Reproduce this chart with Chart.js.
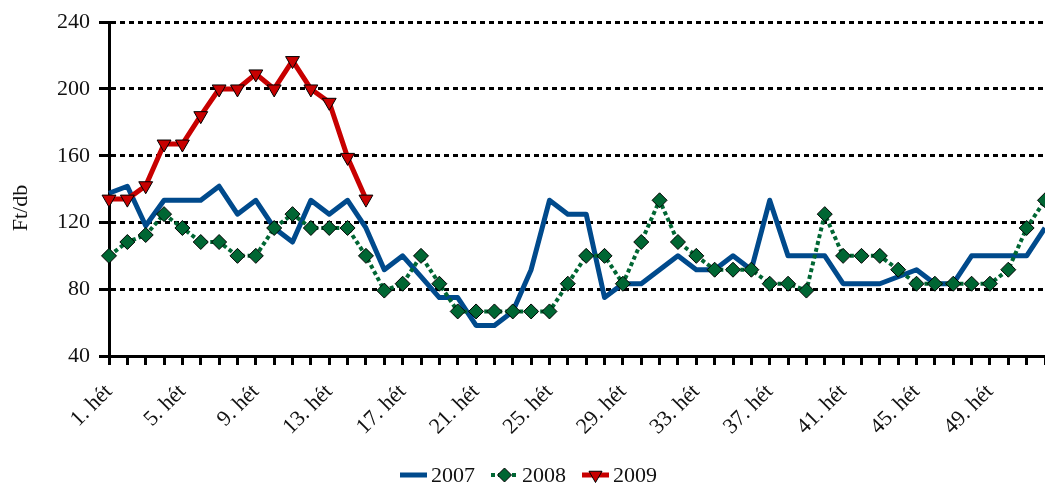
<!DOCTYPE html>
<html>
<head>
<meta charset="utf-8">
<script src="https://cdn.jsdelivr.net/npm/chart.js@4/dist/chart.umd.min.js"></script>
<style>
html,body{margin:0;padding:0;background:#fff;}
#wrap{width:1045px;height:484px;position:relative;}
</style>
</head>
<body>
<div id="wrap"><canvas id="c"></canvas></div>
<script>
// ---- data ----
const weeks = [];
for (let i = 1; i <= 52; i++) weeks.push(i + ". hét");
const seriesNames = ["2007", "2008", "2009"];
const y2007 = [137.5, 141.7, 118, 133.3, 133.3, 133.3, 141.7, 125, 133.3, 116.7,
               108.3, 133.3, 125, 133.3, 116.7, 91.7, 100, 87.5, 75, 75,
               58.3, 58.3, 66.7, 91.7, 133.3, 125, 125, 75, 83.3, 83.3,
               91.7, 100, 91.7, 91.7, 100, 91.7, 133.3, 100, 100, 100,
               83.3, 83.3, 83.3, 87.5, 91.7, 83.3, 83.3, 100, 100, 100,
               100, 116.7];
const y2008 = [100, 108.3, 112.5, 125, 116.7, 108.3, 108.3, 100, 100, 116.7,
               125, 116.7, 116.7, 116.7, 100, 79.2, 83.3, 100, 83.3, 66.7,
               66.7, 66.7, 66.7, 66.7, 66.7, 83.3, 100, 100, 83.3, 108.3,
               133.3, 108.3, 100, 91.7, 91.7, 91.7, 83.3, 83.3, 79.2, 125,
               100, 100, 100, 91.7, 83.3, 83.3, 83.3, 83.3, 83.3, 91.7,
               116.7, 133.3];
const y2009 = [134, 134, 142, 167, 167, 184, 200, 200, 209, 200,
               217, 200, 192, 159, 134];
const yTicks = [40, 80, 120, 160, 200, 240];
const yTitle = "Ft/db";

const FONT = "'Liberation Serif', 'DejaVu Serif', serif";
const C07 = "#004A8C", C08 = "#006633", C09 = "#C80000";

const legendPlugin = {
  id: 'customLegend',
  afterDraw(chart) {
    const ctx = chart.ctx;
    ctx.save();
    // y-axis title
    ctx.font = "22px " + FONT;
    ctx.fillStyle = "#111";
    ctx.textAlign = "center";
    ctx.textBaseline = "middle";
    ctx.translate(21, 208);
    ctx.rotate(-Math.PI / 2);
    ctx.fillText(yTitle, 0, 0);
    ctx.restore();

    ctx.save();
    ctx.font = "22px " + FONT;
    ctx.textBaseline = "middle";
    ctx.textAlign = "left";
    const yc = 475;
    let x = 400;
    const ds = chart.data.datasets;
    [0, 1, 2].forEach((k) => {
      const d = ds[k];
      ctx.save();
      ctx.strokeStyle = d.borderColor;
      ctx.lineWidth = d.borderWidth;
      ctx.setLineDash(d.borderDash || []);
      ctx.beginPath();
      ctx.moveTo(x, yc);
      ctx.lineTo(x + 27, yc);
      ctx.stroke();
      ctx.setLineDash([]);
      if (d.pointRadius > 0) {
        ctx.fillStyle = d.pointBackgroundColor;
        ctx.strokeStyle = d.pointBorderColor;
        ctx.lineWidth = d.pointBorderWidth;
        Chart.helpers.drawPoint(ctx, {
          pointStyle: d.pointStyle, rotation: d.pointRotation || 0,
          radius: d.pointRadius - 0.5, borderWidth: d.pointBorderWidth
        }, x + 13.5, yc);
      }
      ctx.restore();
      ctx.fillStyle = "#111";
      ctx.fillText(d.label, x + 31, yc + 1);
      x += 31 + ctx.measureText(d.label).width + 16;
    });
    ctx.restore();
  }
};

new Chart(document.getElementById('c'), {
  type: 'line',
  data: {
    labels: weeks,
    datasets: [
      {
        label: seriesNames[0], data: y2007, order: 3,
        borderColor: C07, backgroundColor: C07, borderWidth: 5,
        pointRadius: 0, borderJoinStyle: 'round', tension: 0
      },
      {
        label: seriesNames[1], data: y2008, order: 2,
        borderColor: C08, backgroundColor: C08, borderWidth: 4,
        borderDash: [4, 3], pointStyle: 'rectRot', pointRadius: 7.5,
        pointBackgroundColor: C08, pointBorderColor: '#000', pointBorderWidth: 1,
        pointHoverRadius: 7.5, tension: 0
      },
      {
        label: seriesNames[2], data: y2009, order: 1,
        borderColor: C09, backgroundColor: C09, borderWidth: 5,
        pointStyle: 'triangle', pointRotation: 180, pointRadius: 8,
        pointBackgroundColor: C09, pointBorderColor: '#000', pointBorderWidth: 1,
        pointHoverRadius: 8, tension: 0, borderJoinStyle: 'round'
      }
    ]
  },
  options: {
    responsive: true,
    maintainAspectRatio: false,
    animation: false,
    events: [],
    layout: { autoPadding: false, padding: { left: 0, right: 0, top: 21, bottom: 0 } },
    plugins: { legend: { display: false }, tooltip: { enabled: false } },
    scales: {
      x: {
        type: 'category',
        offset: false,
        grid: {
          display: true, drawOnChartArea: false, drawTicks: true,
          tickLength: 9, tickWidth: 3, tickColor: '#000', offset: false
        },
        border: { display: true, color: '#000', width: 3 },
        ticks: {
          autoSkip: false, minRotation: 45, maxRotation: 45, padding: 14,
          color: '#111', font: { family: FONT, size: 22 },
          callback: function (v, i) { return i % 4 === 0 ? weeks[i] : ''; }
        },
        afterFit: function (s) { s.height = 128; s.paddingRight = 0; }
      },
      y: {
        min: yTicks[0], max: yTicks[yTicks.length - 1],
        afterBuildTicks: function (s) { s.ticks = yTicks.map(v => ({ value: v })); },
        grid: {
          display: true, drawOnChartArea: true, drawTicks: true,
          color: function (c) { return c.tick && c.tick.value === 40 ? 'rgba(0,0,0,0)' : '#000'; },
          lineWidth: 3, tickLength: 10, tickWidth: 3, tickColor: '#000', tickBorderDash: []
        },
        border: { display: true, color: '#000', width: 3, dash: [5, 4] },
        ticks: {
          padding: 9, color: '#111', font: { family: FONT, size: 22 }
        },
        afterFit: function (s) { s.width = 109; }
      }
    }
  },
  plugins: [legendPlugin]
});
</script>
</body>
</html>
